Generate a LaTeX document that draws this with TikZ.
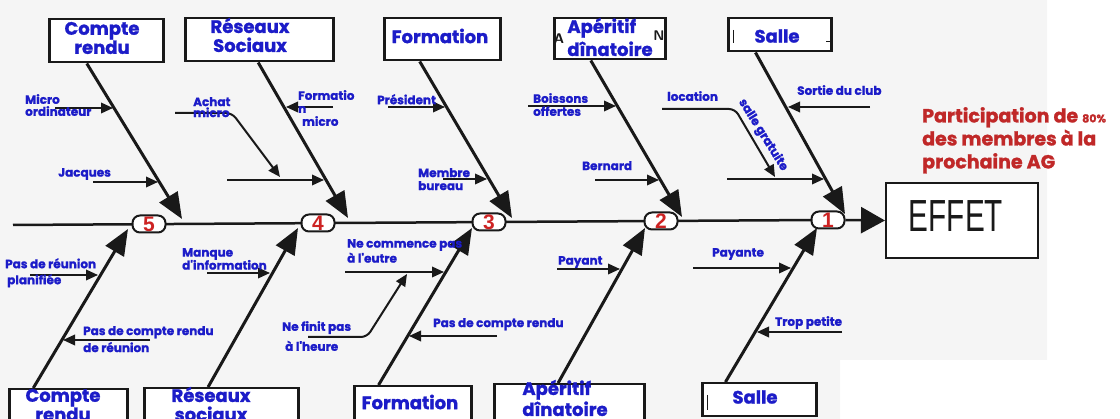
\documentclass[tikz,border=0pt]{standalone}
\usepackage{fontspec}
\usetikzlibrary{arrows.meta,calc}
\newfontfamily\pop{Poppins}[FakeBold=1.3]
\newfontfamily\effont{Liberation Sans}[FakeStretch=0.66]
\newfontfamily\numfont{Liberation Sans}
\definecolor{lblue}{RGB}{28,28,200}
\definecolor{nred}{RGB}{205,35,35}
\definecolor{tred}{RGB}{192,40,40}
\definecolor{ink}{RGB}{25,25,25}
\definecolor{scan}{RGB}{245,245,245}
\begin{document}
\begin{tikzpicture}[x=1pt,y=-1pt,
 lab/.style={font=\pop\bfseries\fontsize{12}{#1}\selectfont, text=lblue, inner sep=0pt, align=left, anchor=north west},
 lab/.default=13,
 cat/.style={font=\pop\bfseries\fontsize{18}{#1}\selectfont, text=lblue, inner sep=0pt, align=center},
 cat/.default=19,
 catbox/.style={draw=ink, line width=2.5pt, fill=white, inner sep=0pt, anchor=north west},
 bone/.style={draw=ink, line width=3pt, -{Triangle[length=26pt,width=21pt]}},
 sub/.style={draw=ink, line width=2pt, -{Triangle[length=12pt,width=10.5pt]}},
 circ/.style={draw=ink, line width=2pt, fill=white, rounded corners=7.5pt, minimum width=33pt, minimum height=17pt, inner sep=0pt, font=\numfont\bfseries\fontsize{21}{21}\selectfont, text=nred}]
\useasboundingbox (0,0) rectangle (1120,419);
\clip (0,0) rectangle (1120,419);
\fill[scan] (0,0) -- (1047,0) -- (1047,360) -- (840,360) -- (840,419) -- (0,419) -- cycle;

% spine
\coordinate (sL) at (13,225);
\coordinate (sR) at (820,220);
\draw[ink, line width=2.5pt] (sL) -- (sR);

% category boxes (top)
\node[catbox, minimum width=114pt, minimum height=43pt] (bCRu) at (48,18) {};
\node[catbox, minimum width=148pt, minimum height=43pt] (bRSu) at (184,17) {};
\node[catbox, minimum width=116pt, minimum height=42pt] (bFu) at (383,17) {};
\node[catbox, minimum width=111pt, minimum height=41pt] (bAu) at (553,17) {};
\node[catbox, minimum width=103pt, minimum height=33pt] (bSu) at (727,17) {};
% category boxes (bottom)
\node[catbox, minimum width=118pt, minimum height=50pt] (bCRl) at (8,388) {};
\node[catbox, minimum width=154pt, minimum height=50pt] (bRSl) at (143,387) {};
\node[catbox, minimum width=117pt, minimum height=50pt] (bFl) at (353,385) {};
\node[catbox, minimum width=150pt, minimum height=50pt] (bAl) at (493,383) {};
\node[catbox, minimum width=114pt, minimum height=33pt] (bSl) at (701,382) {};

% small scan marks
\draw[ink, line width=1pt] (733,30) -- (733,43);
\draw[ink, line width=1pt] (826,42) -- (830,42);
\draw[ink, line width=1pt] (707,395) -- (707,410);
\node[font=\sffamily\bfseries\fontsize{14}{14}\selectfont, text=ink, inner sep=0pt] (artA) at (559,39) {A};
\node[font=\sffamily\bfseries\fontsize{14}{14}\selectfont, text=ink, inner sep=0pt] (artN) at (659,36) {N};

% category labels
\node[cat=18] (tCRu) at (102,38) {Compte\\rendu};
\node[cat=19] (tRSu) at (250,35) {Réseaux\\Sociaux};
\node[cat] (tFu) at (440,36) {Formation};
\node[cat=23, align=left] (tAu) at (610,37) {Apéritif\\dînatoire};
\node[cat] (tSu) at (777,36) {Salle};
\node[cat=18] (tCRl) at (63,405) {Compte\\rendu};
\node[cat=19] (tRSl) at (211,404) {Réseaux\\sociaux};
\node[cat] (tFl) at (410,402) {Formation};
\node[cat=21, align=left] (tAl) at (565,398) {Apéritif\\dînatoire};
\node[cat] (tSl) at (755,397) {Salle};

% bone tips
\coordinate (t5u) at (182,219);
\coordinate (t4u) at (348,218);
\coordinate (t3u) at (512,218);
\coordinate (t2u) at (682,217);
\coordinate (t1u) at (845,214);
\coordinate (t5l) at (128,229);
\coordinate (t4l) at (298,228);
\coordinate (t3l) at (472,228);
\coordinate (t2l) at (645,228);
\coordinate (t1l) at (817,228);

% bones
\draw[bone] ($(bCRu.south west)!0.333!(bCRu.south east)$) -- (t5u);
\draw[bone] ($(bRSu.south west)!0.493!(bRSu.south east)$) -- (t4u);
\draw[bone] ($(bFu.south west)!0.31!(bFu.south east)$) -- (t3u);
\draw[bone] ($(bAu.south west)!0.333!(bAu.south east)$) -- (t2u);
\draw[bone] ($(bSu.south west)!0.27!(bSu.south east)$) -- (t1u);
\draw[bone] ($(bCRl.north west)!0.21!(bCRl.north east)$) -- (t5l);
\draw[bone] ($(bRSl.north west)!0.416!(bRSl.north east)$) -- (t4l);
\draw[bone] ($(bFl.north west)!0.214!(bFl.north east)$) -- (t3l);
\draw[bone] ($(bAl.north west)!0.427!(bAl.north east)$) -- (t2l);
\draw[bone] ($(bSl.north west)!0.21!(bSl.north east)$) -- (t1l);

% numbered circles
\node[circ] (c5) at (149,224) {5};
\node[circ] (c4) at (318,223) {4};
\node[circ] (c3) at (489,222) {3};
\node[circ] (c2) at (661,221) {2};
\node[circ] (c1) at (828,220) {1};

% effect
\node[draw=ink, line width=2pt, fill=white, minimum width=152pt, minimum height=75pt, anchor=north west, inner sep=0pt] (effet) at (885,182) {};
\node[font=\effont\fontsize{45}{45}\selectfont, text=ink, inner sep=0pt] (teffet) at (956,216) {EFFET};
\draw[ink, line width=2.5pt, -{Triangle[length=24pt,width=26pt]}] (c1.east) -- (effet.west);
\node[font=\pop\bfseries\fontsize{19}{23}\selectfont, text=tred, inner sep=0pt, align=left, anchor=north west] (goal) at (922,107) {Participation de {\fontsize{11}{11}\selectfont 80\%}\\des membres à la\\prochaine AG};

% sub-cause coordinates
\coordinate (aMO) at (55,108);   \coordinate (eMO) at (113,108);
\coordinate (aJac) at (93,182);  \coordinate (eJac) at (158,182);
\coordinate (aAch) at (175,113); \coordinate (kAch) at (232,113); \coordinate (eAch) at (280,177);
\coordinate (aRS) at (227,180);  \coordinate (eRS) at (324,180);
\coordinate (aFM) at (333,107);  \coordinate (eFM) at (286,107);
\coordinate (aPres) at (388,107);\coordinate (ePres) at (445,107);
\coordinate (aMB) at (443,179);  \coordinate (eMB) at (487,179);
\coordinate (aBO) at (528,106);  \coordinate (eBO) at (616,106);
\coordinate (aBern) at (595,180);\coordinate (eBern) at (659,180);
\coordinate (aLoc) at (662,109); \coordinate (kLoc) at (735,109); \coordinate (eLoc) at (775,177);
\coordinate (aSh) at (727,179);  \coordinate (eSh) at (824,179);
\coordinate (aSort) at (870,107);\coordinate (eSort) at (788,107);
\coordinate (aPRP) at (30,275);  \coordinate (ePRP) at (98,275);
\coordinate (aPC1) at (150,340); \coordinate (ePC1) at (63,340);
\coordinate (aMI) at (207,273);  \coordinate (eMI) at (270,273);
\coordinate (aNC) at (345,272);  \coordinate (eNC) at (444,272);
\coordinate (aNF) at (308,337);  \coordinate (kNF) at (367,337); \coordinate (eNF) at (407,274);
\coordinate (aPC2) at (497,336); \coordinate (ePC2) at (409,336);
\coordinate (aPay) at (557,269); \coordinate (ePay) at (620,269);
\coordinate (aPte) at (693,268); \coordinate (ePte) at (791,268);
\coordinate (aTP) at (842,332);  \coordinate (eTP) at (757,332);

% sub-cause arrows
\draw[sub] (aMO) -- (eMO);
\draw[sub] (aJac) -- (eJac);
\draw[sub, rounded corners=6pt] (aAch) -- (kAch) -- (eAch);
\draw[sub] (aRS) -- (eRS);
\draw[sub] (aFM) -- (eFM);
\draw[sub] (aPres) -- (ePres);
\draw[sub] (aMB) -- (eMB);
\draw[sub] (aBO) -- (eBO);
\draw[sub] (aBern) -- (eBern);
\draw[sub, rounded corners=6pt] (aLoc) -- (kLoc) -- (eLoc);
\draw[sub] (aSh) -- (eSh);
\draw[sub] (aSort) -- (eSort);
\draw[sub] (aPRP) -- (ePRP);
\draw[sub] (aPC1) -- (ePC1);
\draw[sub] (aMI) -- (eMI);
\draw[sub] (aNC) -- (eNC);
\draw[sub, rounded corners=6pt] (aNF) -- (kNF) -- (eNF);
\draw[sub] (aPC2) -- (ePC2);
\draw[sub] (aPay) -- (ePay);
\draw[sub] (aPte) -- (ePte);
\draw[sub] (aTP) -- (eTP);

% sub-cause labels
\node[lab=12] (lMO) at (25,94) {Micro\\ordinateur};
\node[lab] (lJac) at (58,168) {Jacques};
\node[lab=11] (lAch) at (193,97) {Achat\\micro};
\node[lab=13] (lFM) at (298,90) {Formatio\\n\\\hspace{4pt}micro};
\node[lab] (lPres) at (377,94) {Président};
\node[lab] (lMB) at (418,168) {Membre\\bureau};
\node[lab] (lBO) at (533,93) {Boissons\\offertes};
\node[lab] (lBern) at (582,161) {Bernard};
\node[lab] (lLoc) at (667,91) {location};
\node[lab, anchor=center, rotate=-58] (lSG) at (763,135) {salle gratuite};
\node[lab] (lSort) at (797,85) {Sortie du club};
\node[lab=16] (lPRP) at (5,258) {Pas de réunion\\\hspace{2pt}planifiée};
\node[lab=17] (lPC1) at (83,326) {Pas de compte rendu\\de réunion};
\node[lab] (lMI) at (182,248) {Manque\\d'information};
\node[lab=15] (lNC) at (347,239) {Ne commence pas\\à l'eutre};
\node[lab=20] (lNF) at (282,321) {Ne finit pas\\\hspace{3pt}à l'heure};
\node[lab] (lPC2) at (433,318) {Pas de compte rendu};
\node[lab] (lPay) at (558,256) {Payant};
\node[lab] (lPte) at (712,248) {Payante};
\node[lab] (lTP) at (775,316) {Trop petite};
\end{tikzpicture}
\end{document}
